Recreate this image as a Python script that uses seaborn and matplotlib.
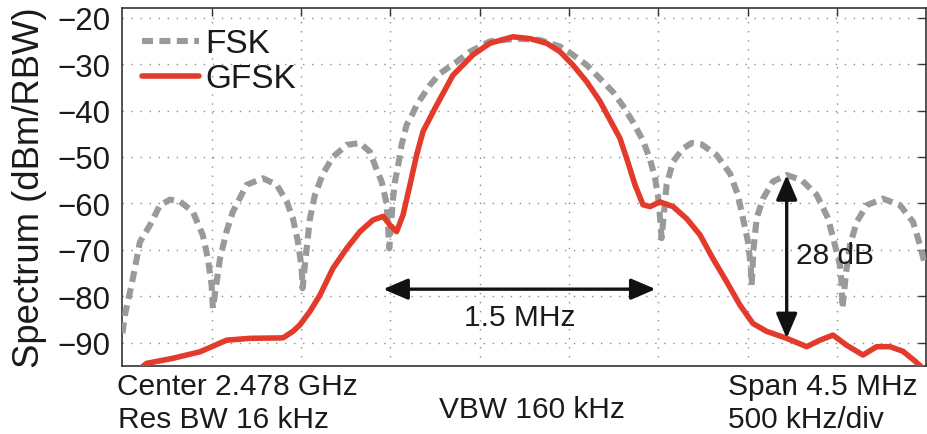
import matplotlib
matplotlib.use("Agg")
import matplotlib.pyplot as plt
import numpy as np
import pandas as pd
import seaborn as sns

# Frequency offset from the 2.478 GHz carrier (MHz) and measured spectrum (dBm/RBW)
fsk_mhz = [-2.249, -2.235, -2.198, -2.151, -2.095, -2.039, -1.983, -1.927, -1.855,
           -1.799, -1.771, -1.750, -1.743, -1.722, -1.703, -1.666, -1.631, -1.554,
           -1.463, -1.386, -1.330, -1.295, -1.267, -1.246, -1.241, -1.228, -1.200,
           -1.172, -1.127, -1.071, -0.994, -0.920, -0.864, -0.836, -0.799, -0.771,
           -0.762, -0.756, -0.735, -0.724, -0.706, -0.687, -0.659, -0.635, -0.603,
           -0.528, -0.472, -0.379, -0.304, -0.193, -0.043, 0.087, 0.199, 0.272,
           0.349, 0.423, 0.496, 0.552, 0.608, 0.664, 0.703, 0.731, 0.748, 0.759,
           0.768, 0.796, 0.832, 0.888, 0.936, 0.992, 1.076, 1.151, 1.195, 1.223,
           1.251, 1.266, 1.272, 1.282, 1.300, 1.335, 1.391, 1.468, 1.552, 1.636,
           1.699, 1.738, 1.766, 1.776, 1.780, 1.800, 1.822, 1.860, 1.916, 2.007,
           2.102, 2.175, 2.214, 2.242]
fsk_dbm = [-88.0, -84.0, -77.6, -68.3, -64.7, -60.4, -59.2, -59.6, -61.8,
           -66.9, -71.9, -77.6, -82.6, -77.0, -71.9, -66.0, -61.8, -56.0,
           -54.6, -56.0, -59.6, -63.3, -68.3, -74.0, -78.3, -73.3, -63.3,
           -58.2, -53.6, -50.0, -47.4, -47.0, -48.9, -51.8, -55.3, -60.0,
           -65.4, -69.7, -59.0, -55.3, -51.8, -47.4, -43.1, -41.5, -38.8,
           -34.5, -32.0, -29.5, -27.3, -25.1, -24.5, -24.8, -26.2, -28.0,
           -30.2, -33.1, -36.0, -39.0, -42.5, -46.5, -50.5, -54.5, -58.5, -63.0,
           -67.5, -56.0, -51.0, -48.2, -47.0, -47.3, -49.6, -53.6, -58.2, -63.2,
           -68.2, -73.3, -77.6, -70.0, -63.2, -59.0, -55.3, -53.9, -55.0, -58.2,
           -63.2, -69.0, -73.3, -77.6, -82.6, -75.0, -69.0, -64.0, -60.4, -59.0,
           -60.4, -64.0, -69.0, -73.3]

gfsk_mhz = [-2.179, -2.114, -1.966, -1.815, -1.666, -1.536, -1.351, -1.295, -1.256,
            -1.200, -1.144, -1.071, -0.994, -0.920, -0.847, -0.790, -0.752, -0.715,
            -0.679, -0.640, -0.603, -0.567, -0.500, -0.400, -0.288, -0.193, -0.064,
            0.031, 0.125, 0.199, 0.272, 0.349, 0.423, 0.479, 0.535, 0.574, 0.619,
            0.664, 0.703, 0.759, 0.832, 0.908, 0.983, 1.055, 1.132, 1.206, 1.279,
            1.356, 1.468, 1.580, 1.654, 1.727, 1.804, 1.895, 1.971, 2.046, 2.119,
            2.186, 2.242]
gfsk_dbm = [-96.5, -94.5, -93.4, -92.0, -89.5, -89.1, -89.0, -87.6, -86.2,
            -83.3, -79.8, -74.0, -69.7, -66.1, -63.6, -62.8, -64.7, -66.1,
            -62.5, -56.0, -49.6, -44.5, -39.5, -32.4, -28.0, -25.5, -24.1,
            -24.5, -25.5, -27.3, -30.2, -33.8, -38.0, -42.0, -46.0, -50.5, -56.0,
            -60.3, -60.7, -59.7, -60.7, -63.3, -66.8, -71.9, -76.9, -81.9, -85.9,
            -87.6, -89.1, -90.9, -89.5, -88.4, -90.6, -92.7, -90.9, -90.9, -91.9,
            -94.0, -96.0]

y_ticks = [-90, -80, -70, -60, -50, -40, -30, -20]
x_ticks = [-1.75, -1.25, -0.75, -0.25, 0.25, 0.75, 1.25, 1.75]

# Annotated quantities
bw_start, bw_end, bw_level = -0.790, 0.735, -78.5   # main-lobe width arrow (MHz)
sup_freq = 1.468                                     # side-lobe suppression arrow (MHz)

sns.set_theme(style="white")
plt.rcParams["font.family"] = ["Liberation Sans", "DejaVu Sans"]
text_col = "#1a1a1a"
note_size = 21.5

fig = plt.figure(figsize=(9.27, 4.35), dpi=100)
ax = fig.add_axes([0.1319, 0.157, 0.8675, 0.8212])

fsk = pd.DataFrame({"f": fsk_mhz, "p": fsk_dbm})
gfsk = pd.DataFrame({"f": gfsk_mhz, "p": gfsk_dbm})

sns.lineplot(data=fsk, x="f", y="p", ax=ax, color="#9a9a9a", lw=4.4,
             estimator=None, sort=False, label="FSK", zorder=3)
ax.lines[-1].set_dashes((1.8, 1.05))
sns.lineplot(data=gfsk, x="f", y="p", ax=ax, color="#e23b2b", lw=4.0,
             estimator=None, sort=False, label="GFSK", zorder=4)

ax.set_xlim(-2.25, 2.25)
ax.set_ylim(-95, -18)
ax.set_xticks(x_ticks)
ax.set_xticklabels([])
ax.set_yticks(y_ticks)
ax.set_xlabel("")
ax.set_ylabel("Spectrum (dBm/RBW)", fontsize=26.3, color=text_col)
ax.yaxis.set_label_coords(-0.094, 0.5)

ax.grid(True, color="#8c8c8c", linestyle=(0, (1, 5.5)), linewidth=1.0)
ax.tick_params(axis="both", which="major", direction="in", length=6,
               width=1.0, color="#333333", top=True, right=True,
               labelsize=22.5, labelcolor=text_col, pad=8.5)
for side in ax.spines.values():
    side.set_color("#333333")
    side.set_linewidth(1.2)

leg = ax.legend(loc="upper left", bbox_to_anchor=(0.0, 1.0), frameon=False,
                fontsize=24, handlelength=1.7, handletextpad=0.2,
                labelspacing=0.12, borderaxespad=0.2)
for t in leg.get_texts():
    t.set_color(text_col)

arrow_kw = dict(arrowstyle="<|-|>,head_length=0.75,head_width=0.32",
                color="#111111", lw=2.4, mutation_scale=20,
                shrinkA=0, shrinkB=0)
ax.annotate("", xy=(bw_end, bw_level), xytext=(bw_start, bw_level),
            arrowprops=arrow_kw, zorder=6)
ax.text((bw_start + bw_end) / 2, -84.4, "1.5 MHz", fontsize=note_size,
        ha="center", va="center", color=text_col)

top = fsk_dbm[fsk_mhz.index(sup_freq)]
bottom = gfsk_dbm[gfsk_mhz.index(sup_freq)]
ax.annotate("", xy=(sup_freq, bottom), xytext=(sup_freq, top),
            arrowprops=arrow_kw, zorder=6)
ax.text(sup_freq + 0.05, -71.2, "28 dB", fontsize=note_size,
        ha="left", va="center", color=text_col)

# Analyzer settings along the lower edge
fig.text(0.126, 0.092, "Center 2.478 GHz", fontsize=note_size, color=text_col,
         ha="left", va="baseline")
fig.text(0.127, 0.015, "Res BW 16 kHz", fontsize=note_size, color=text_col,
         ha="left", va="baseline")
fig.text(0.574, 0.040, "VBW 160 kHz", fontsize=note_size, color=text_col,
         ha="center", va="baseline")
fig.text(0.785, 0.092, "Span 4.5 MHz", fontsize=note_size, color=text_col,
         ha="left", va="baseline")
fig.text(0.785, 0.015, "500 kHz/div", fontsize=note_size, color=text_col,
         ha="left", va="baseline")

fig.savefig("out.png", dpi=100)
